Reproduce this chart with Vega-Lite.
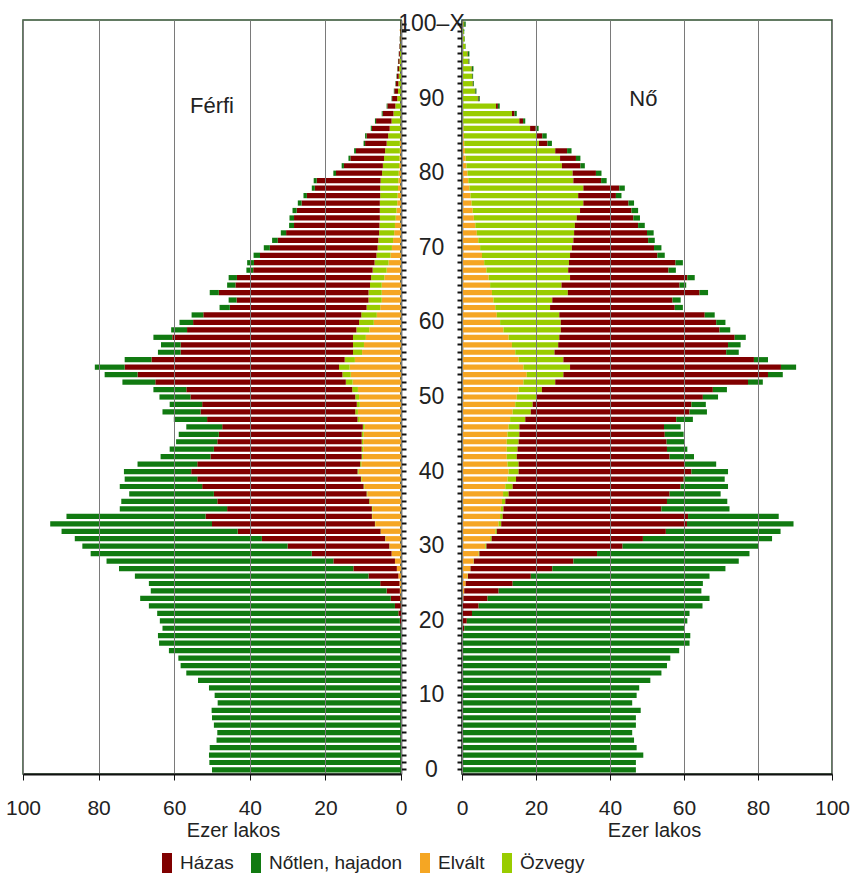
{
"$schema":"https://vega.github.io/schema/vega-lite/v6.json",
"padding":{"left":4,"top":11,"right":0,"bottom":5},
"background":"white",
"bounds":"flush",
"spacing":61,
"config":{
 "font":"Liberation Sans, Arial, sans-serif",
 "view":{"stroke":"#2f4f2f","strokeWidth":1.5},
 "axis":{"labelColor":"#222","titleColor":"#222","labelFontSize":21,"titleFontWeight":"normal","labelFlush":false},
 "legend":{"orient":"none","legendX":134,"legendY":833,"direction":"horizontal","columns":4,"columnPadding":12,"labelFontSize":19,"labelColor":"#222","symbolType":"M-0.5,-1H0.5V1H-0.5Z","symbolSize":400,"symbolStrokeWidth":0,"labelOffset":3,"title":null}
},
"datasets":{
 "male":[
{"age":100,"Elvált":0,"Özvegy":0.05,"Házas":0.07,"Nőtlen, hajadon":0.03},
{"age":99,"Elvált":0,"Özvegy":0.1,"Házas":0.12,"Nőtlen, hajadon":0.03},
{"age":98,"Elvált":0,"Özvegy":0.15,"Házas":0.16,"Nőtlen, hajadon":0.04},
{"age":97,"Elvált":0,"Özvegy":0.2,"Házas":0.2,"Nőtlen, hajadon":0.05},
{"age":96,"Elvált":0,"Özvegy":0.3,"Házas":0.25,"Nőtlen, hajadon":0.05},
{"age":95,"Elvált":0,"Özvegy":0.4,"Házas":0.34,"Nőtlen, hajadon":0.06},
{"age":94,"Elvált":0,"Özvegy":0.5,"Házas":0.42,"Nőtlen, hajadon":0.08},
{"age":93,"Elvált":0,"Özvegy":0.6,"Házas":0.5,"Nőtlen, hajadon":0.1},
{"age":92,"Elvált":0.02,"Özvegy":0.68,"Házas":0.7,"Nőtlen, hajadon":0.1},
{"age":91,"Elvált":0.03,"Özvegy":0.77,"Házas":0.98,"Nőtlen, hajadon":0.12},
{"age":90,"Elvált":0.05,"Özvegy":0.95,"Házas":1.35,"Nőtlen, hajadon":0.15},
{"age":89,"Elvált":0.05,"Özvegy":1.45,"Házas":2.1,"Nőtlen, hajadon":0.2},
{"age":88,"Elvált":0.1,"Özvegy":1.9,"Házas":2.85,"Nőtlen, hajadon":0.25},
{"age":87,"Elvált":0.1,"Özvegy":2.4,"Házas":4.1,"Nőtlen, hajadon":0.3},
{"age":86,"Elvált":0.15,"Özvegy":2.85,"Házas":4.7,"Nőtlen, hajadon":0.3},
{"age":85,"Elvált":0.2,"Özvegy":3.2,"Házas":5.7,"Nőtlen, hajadon":0.4},
{"age":84,"Elvált":0.3,"Özvegy":3.5,"Házas":5.7,"Nőtlen, hajadon":0.4},
{"age":83,"Elvált":0.3,"Özvegy":3.9,"Házas":7.7,"Nőtlen, hajadon":0.5},
{"age":82,"Elvált":0.4,"Özvegy":4.1,"Házas":8.9,"Nőtlen, hajadon":0.5},
{"age":81,"Elvált":0.5,"Özvegy":4.3,"Házas":10.3,"Nőtlen, hajadon":0.6},
{"age":80,"Elvált":0.6,"Özvegy":4.4,"Házas":12.2,"Nőtlen, hajadon":0.7},
{"age":79,"Elvált":0.7,"Özvegy":4.7,"Házas":16.9,"Nőtlen, hajadon":0.8},
{"age":78,"Elvált":0.8,"Özvegy":4.7,"Házas":17.3,"Nőtlen, hajadon":0.8},
{"age":77,"Elvált":0.9,"Özvegy":4.6,"Házas":19.4,"Nőtlen, hajadon":0.9},
{"age":76,"Elvált":1.0,"Özvegy":4.6,"Házas":20.7,"Nőtlen, hajadon":1.0},
{"age":75,"Elvált":1.2,"Özvegy":4.4,"Házas":22.0,"Nőtlen, hajadon":1.1},
{"age":74,"Elvált":1.4,"Özvegy":4.2,"Házas":22.7,"Nőtlen, hajadon":1.2},
{"age":73,"Elvált":1.6,"Özvegy":4.1,"Házas":22.6,"Nőtlen, hajadon":1.3},
{"age":72,"Elvált":1.8,"Özvegy":4.0,"Házas":24.6,"Nőtlen, hajadon":1.4},
{"age":71,"Elvált":2.1,"Özvegy":3.9,"Házas":26.6,"Nőtlen, hajadon":1.5},
{"age":70,"Elvált":2.4,"Özvegy":3.8,"Házas":28.5,"Nőtlen, hajadon":1.6},
{"age":69,"Elvált":2.8,"Özvegy":3.7,"Házas":30.8,"Nőtlen, hajadon":1.7},
{"age":68,"Elvált":3.3,"Özvegy":3.7,"Házas":31.9,"Nőtlen, hajadon":1.8},
{"age":67,"Elvált":3.8,"Özvegy":3.7,"Házas":31.6,"Nőtlen, hajadon":1.8},
{"age":66,"Elvált":4.4,"Özvegy":3.5,"Házas":35.5,"Nőtlen, hajadon":2.2},
{"age":65,"Elvált":5.1,"Özvegy":3.1,"Házas":35.6,"Nőtlen, hajadon":2.2},
{"age":64,"Elvált":5.1,"Özvegy":3.5,"Házas":39.6,"Nőtlen, hajadon":2.4},
{"age":63,"Elvált":5.1,"Özvegy":3.5,"Házas":34.9,"Nőtlen, hajadon":2.1},
{"age":62,"Elvált":5.5,"Özvegy":3.6,"Házas":36.2,"Nőtlen, hajadon":2.7},
{"age":61,"Elvált":6.4,"Özvegy":4.1,"Házas":41.8,"Nőtlen, hajadon":3.1},
{"age":60,"Elvált":7.2,"Özvegy":3.9,"Házas":43.9,"Nőtlen, hajadon":3.6},
{"age":59,"Elvált":8.4,"Özvegy":3.4,"Házas":44.8,"Nőtlen, hajadon":4.2},
{"age":58,"Elvált":9.3,"Özvegy":3.4,"Házas":47.8,"Nőtlen, hajadon":5.0},
{"age":57,"Elvált":9.8,"Özvegy":2.9,"Házas":45.6,"Nőtlen, hajadon":5.2},
{"age":56,"Elvált":10.3,"Özvegy":2.4,"Házas":45.6,"Nőtlen, hajadon":6.0},
{"age":55,"Elvált":12.2,"Özvegy":2.7,"Házas":51.1,"Nőtlen, hajadon":7.1},
{"age":54,"Elvált":13.6,"Özvegy":2.8,"Házas":56.7,"Nőtlen, hajadon":7.9},
{"age":53,"Elvált":13.3,"Özvegy":2.2,"Házas":54.2,"Nőtlen, hajadon":8.7},
{"age":52,"Elvált":12.8,"Özvegy":1.8,"Házas":50.4,"Nőtlen, hajadon":8.7},
{"age":51,"Elvált":11.4,"Özvegy":1.5,"Házas":43.9,"Nőtlen, hajadon":8.7},
{"age":50,"Elvált":11.1,"Özvegy":1.0,"Házas":43.6,"Nőtlen, hajadon":8.2},
{"age":49,"Elvált":10.9,"Özvegy":0.8,"Házas":40.9,"Nőtlen, hajadon":8.6},
{"age":48,"Elvált":11.4,"Özvegy":0.7,"Házas":40.9,"Nőtlen, hajadon":10.1},
{"age":47,"Elvált":10.9,"Özvegy":0.6,"Házas":39.8,"Nőtlen, hajadon":8.8},
{"age":46,"Elvált":9.6,"Özvegy":0.5,"Házas":37.2,"Nőtlen, hajadon":9.5},
{"age":45,"Elvált":9.9,"Özvegy":0.5,"Házas":37.8,"Nőtlen, hajadon":10.6},
{"age":44,"Elvált":10.0,"Özvegy":0.4,"Házas":38.2,"Nőtlen, hajadon":10.9},
{"age":43,"Elvált":10.0,"Özvegy":0.4,"Házas":39.1,"Nőtlen, hajadon":11.7},
{"age":42,"Elvált":10.1,"Özvegy":0.3,"Házas":40.0,"Nőtlen, hajadon":13.2},
{"age":41,"Elvált":10.5,"Özvegy":0.3,"Házas":43.1,"Nőtlen, hajadon":15.8},
{"age":40,"Elvált":11.2,"Özvegy":0.3,"Házas":44.0,"Nőtlen, hajadon":17.8},
{"age":39,"Elvált":10.4,"Özvegy":0.2,"Házas":43.3,"Nőtlen, hajadon":19.2},
{"age":38,"Elvált":9.7,"Özvegy":0.2,"Házas":42.7,"Nőtlen, hajadon":21.8},
{"age":37,"Elvált":8.9,"Özvegy":0.2,"Házas":40.4,"Nőtlen, hajadon":22.4},
{"age":36,"Elvált":8.2,"Özvegy":0.2,"Házas":40.2,"Nőtlen, hajadon":25.4},
{"age":35,"Elvált":7.5,"Özvegy":0.2,"Házas":38.3,"Nőtlen, hajadon":28.4},
{"age":34,"Elvált":7.6,"Özvegy":0.1,"Házas":44.0,"Nőtlen, hajadon":36.8},
{"age":33,"Elvált":6.8,"Özvegy":0.1,"Házas":43.1,"Nőtlen, hajadon":42.8},
{"age":32,"Elvált":5.3,"Özvegy":0.1,"Házas":37.8,"Nőtlen, hajadon":46.6},
{"age":31,"Elvált":4.1,"Özvegy":0.1,"Házas":32.6,"Nőtlen, hajadon":49.5},
{"age":30,"Elvált":3.0,"Özvegy":0.1,"Házas":26.9,"Nőtlen, hajadon":54.3},
{"age":29,"Elvált":2.5,"Özvegy":0,"Házas":21.1,"Nőtlen, hajadon":58.5},
{"age":28,"Elvált":1.6,"Özvegy":0,"Házas":16.3,"Nőtlen, hajadon":60.0},
{"age":27,"Elvált":1.1,"Özvegy":0,"Házas":11.5,"Nőtlen, hajadon":62.0},
{"age":26,"Elvált":0.7,"Özvegy":0,"Házas":7.9,"Nőtlen, hajadon":61.8},
{"age":25,"Elvált":0.4,"Özvegy":0,"Házas":5.1,"Nőtlen, hajadon":61.2},
{"age":24,"Elvált":0.3,"Özvegy":0,"Házas":3.5,"Nőtlen, hajadon":62.4},
{"age":23,"Elvált":0.2,"Özvegy":0,"Házas":2.5,"Nőtlen, hajadon":66.3},
{"age":22,"Elvált":0.1,"Özvegy":0,"Házas":1.5,"Nőtlen, hajadon":65.1},
{"age":21,"Elvált":0,"Özvegy":0,"Házas":0.7,"Nőtlen, hajadon":63.8},
{"age":20,"Elvált":0,"Özvegy":0,"Házas":0.3,"Nőtlen, hajadon":63.5},
{"age":19,"Elvált":0,"Özvegy":0,"Házas":0.1,"Nőtlen, hajadon":63.0},
{"age":18,"Elvált":0,"Özvegy":0,"Házas":0,"Nőtlen, hajadon":64.3},
{"age":17,"Elvált":0,"Özvegy":0,"Házas":0,"Nőtlen, hajadon":64.0},
{"age":16,"Elvált":0,"Özvegy":0,"Házas":0,"Nőtlen, hajadon":61.4},
{"age":15,"Elvált":0,"Özvegy":0,"Házas":0,"Nőtlen, hajadon":58.9},
{"age":14,"Elvált":0,"Özvegy":0,"Házas":0,"Nőtlen, hajadon":58.3},
{"age":13,"Elvált":0,"Özvegy":0,"Házas":0,"Nőtlen, hajadon":56.8},
{"age":12,"Elvált":0,"Özvegy":0,"Házas":0,"Nőtlen, hajadon":53.7},
{"age":11,"Elvált":0,"Özvegy":0,"Házas":0,"Nőtlen, hajadon":50.8},
{"age":10,"Elvált":0,"Özvegy":0,"Házas":0,"Nőtlen, hajadon":49.3},
{"age":9,"Elvált":0,"Özvegy":0,"Házas":0,"Nőtlen, hajadon":48.5},
{"age":8,"Elvált":0,"Özvegy":0,"Házas":0,"Nőtlen, hajadon":50.1},
{"age":7,"Elvált":0,"Özvegy":0,"Házas":0,"Nőtlen, hajadon":50.0},
{"age":6,"Elvált":0,"Özvegy":0,"Házas":0,"Nőtlen, hajadon":49.5},
{"age":5,"Elvált":0,"Özvegy":0,"Házas":0,"Nőtlen, hajadon":48.6},
{"age":4,"Elvált":0,"Özvegy":0,"Házas":0,"Nőtlen, hajadon":48.8},
{"age":3,"Elvált":0,"Özvegy":0,"Házas":0,"Nőtlen, hajadon":50.6},
{"age":2,"Elvált":0,"Özvegy":0,"Házas":0,"Nőtlen, hajadon":50.8},
{"age":1,"Elvált":0,"Özvegy":0,"Házas":0,"Nőtlen, hajadon":50.7},
{"age":0,"Elvált":0,"Özvegy":0,"Házas":0,"Nőtlen, hajadon":50.0}
 ],
 "female":[
{"age":100,"Elvált":0,"Özvegy":0.5,"Házas":0.1,"Nőtlen, hajadon":0.4},
{"age":99,"Elvált":0,"Özvegy":0.5,"Házas":0,"Nőtlen, hajadon":0.1},
{"age":98,"Elvált":0,"Özvegy":0.7,"Házas":0,"Nőtlen, hajadon":0.1},
{"age":97,"Elvált":0,"Özvegy":0.9,"Házas":0,"Nőtlen, hajadon":0.1},
{"age":96,"Elvált":0,"Özvegy":1.5,"Házas":0.1,"Nőtlen, hajadon":0.4},
{"age":95,"Elvált":0,"Özvegy":1.7,"Házas":0.1,"Nőtlen, hajadon":0.2},
{"age":94,"Elvált":0.05,"Özvegy":2.55,"Házas":0.1,"Nőtlen, hajadon":0.4},
{"age":93,"Elvált":0.05,"Özvegy":2.65,"Házas":0.1,"Nőtlen, hajadon":0.2},
{"age":92,"Elvált":0.05,"Özvegy":2.85,"Házas":0.1,"Nőtlen, hajadon":0.2},
{"age":91,"Elvált":0.1,"Özvegy":3.4,"Házas":0.1,"Nőtlen, hajadon":0.3},
{"age":90,"Elvált":0.1,"Özvegy":4.2,"Házas":0.2,"Nőtlen, hajadon":0.3},
{"age":89,"Elvált":0.2,"Özvegy":9.0,"Házas":0.5,"Nőtlen, hajadon":0.5},
{"age":88,"Elvált":0.3,"Özvegy":13.2,"Házas":0.7,"Nőtlen, hajadon":0.6},
{"age":87,"Elvált":0.3,"Özvegy":15.2,"Házas":1.0,"Nőtlen, hajadon":0.6},
{"age":86,"Elvált":0.4,"Özvegy":18.0,"Házas":1.5,"Nőtlen, hajadon":0.8},
{"age":85,"Elvált":0.5,"Özvegy":19.5,"Házas":1.7,"Nőtlen, hajadon":1.2},
{"age":84,"Elvált":0.6,"Özvegy":20.2,"Házas":2.3,"Nőtlen, hajadon":1.2},
{"age":83,"Elvált":0.8,"Özvegy":24.4,"Házas":3.2,"Nőtlen, hajadon":1.2},
{"age":82,"Elvált":1.0,"Özvegy":25.5,"Házas":4.3,"Nőtlen, hajadon":1.2},
{"age":81,"Elvált":1.2,"Özvegy":25.8,"Házas":5.0,"Nőtlen, hajadon":1.2},
{"age":80,"Elvált":1.5,"Özvegy":28.4,"Házas":6.3,"Nőtlen, hajadon":1.5},
{"age":79,"Elvált":1.7,"Özvegy":28.4,"Házas":7.5,"Nőtlen, hajadon":1.5},
{"age":78,"Elvált":2.0,"Özvegy":30.8,"Házas":9.7,"Nőtlen, hajadon":1.5},
{"age":77,"Elvált":2.3,"Özvegy":29.1,"Házas":10.2,"Nőtlen, hajadon":1.5},
{"age":76,"Elvált":2.6,"Özvegy":30.2,"Házas":12.2,"Nőtlen, hajadon":1.5},
{"age":75,"Elvált":2.9,"Özvegy":29.0,"Házas":13.9,"Nőtlen, hajadon":1.8},
{"age":74,"Elvált":3.2,"Özvegy":27.8,"Házas":15.3,"Nőtlen, hajadon":1.8},
{"age":73,"Elvált":3.6,"Özvegy":26.9,"Házas":17.1,"Nőtlen, hajadon":1.8},
{"age":72,"Elvált":4.0,"Özvegy":26.3,"Házas":19.7,"Nőtlen, hajadon":1.8},
{"age":71,"Elvált":4.4,"Özvegy":25.7,"Házas":20.2,"Nőtlen, hajadon":1.8},
{"age":70,"Elvált":4.9,"Özvegy":24.8,"Házas":22.2,"Nőtlen, hajadon":2.0},
{"age":69,"Elvált":5.4,"Özvegy":23.8,"Házas":23.6,"Nőtlen, hajadon":2.0},
{"age":68,"Elvált":6.0,"Özvegy":22.9,"Házas":28.8,"Nőtlen, hajadon":2.0},
{"age":67,"Elvált":6.6,"Özvegy":22.1,"Házas":27.1,"Nőtlen, hajadon":2.0},
{"age":66,"Elvált":7.2,"Özvegy":22.0,"Házas":31.7,"Nőtlen, hajadon":2.0},
{"age":65,"Elvált":7.6,"Özvegy":19.3,"Házas":31.9,"Nőtlen, hajadon":1.8},
{"age":64,"Elvált":8.1,"Özvegy":20.5,"Házas":35.6,"Nőtlen, hajadon":2.3},
{"age":63,"Elvált":8.5,"Özvegy":15.9,"Házas":32.5,"Nőtlen, hajadon":2.2},
{"age":62,"Elvált":9.0,"Özvegy":14.8,"Házas":33.7,"Nőtlen, hajadon":2.2},
{"age":61,"Elvált":9.4,"Özvegy":16.9,"Házas":39.3,"Nőtlen, hajadon":2.7},
{"age":60,"Elvált":10.3,"Özvegy":16.4,"Házas":42.0,"Nőtlen, hajadon":2.5},
{"age":59,"Elvált":11.2,"Özvegy":15.5,"Házas":42.9,"Nőtlen, hajadon":2.9},
{"age":58,"Elvált":12.6,"Özvegy":13.7,"Házas":47.4,"Nőtlen, hajadon":3.0},
{"age":57,"Elvált":13.5,"Özvegy":12.5,"Házas":45.9,"Nőtlen, hajadon":3.4},
{"age":56,"Elvált":14.4,"Özvegy":10.6,"Házas":46.4,"Nőtlen, hajadon":3.4},
{"age":55,"Elvált":15.3,"Özvegy":12.1,"Házas":51.5,"Nőtlen, hajadon":3.8},
{"age":54,"Elvált":16.6,"Özvegy":12.6,"Házas":57.0,"Nőtlen, hajadon":4.1},
{"age":53,"Elvált":17.5,"Özvegy":9.9,"Házas":55.3,"Nőtlen, hajadon":4.0},
{"age":52,"Elvált":16.6,"Özvegy":8.6,"Házas":52.1,"Nőtlen, hajadon":4.0},
{"age":51,"Elvált":15.3,"Özvegy":6.3,"Házas":46.2,"Nőtlen, hajadon":3.8},
{"age":50,"Elvált":14.8,"Özvegy":5.4,"Házas":44.9,"Nőtlen, hajadon":4.1},
{"age":49,"Elvált":14.4,"Özvegy":4.7,"Házas":42.9,"Nőtlen, hajadon":3.9},
{"age":48,"Elvált":13.7,"Özvegy":4.9,"Házas":42.9,"Nőtlen, hajadon":4.7},
{"age":47,"Elvált":13.0,"Özvegy":4.1,"Házas":40.8,"Nőtlen, hajadon":4.5},
{"age":46,"Elvált":12.6,"Özvegy":2.9,"Házas":39.1,"Nőtlen, hajadon":4.5},
{"age":45,"Elvált":12.3,"Özvegy":3.2,"Házas":39.3,"Nőtlen, hajadon":5.1},
{"age":44,"Elvált":12.1,"Özvegy":3.2,"Házas":40.0,"Nőtlen, hajadon":4.7},
{"age":43,"Elvált":12.1,"Özvegy":2.9,"Házas":40.4,"Nőtlen, hajadon":5.5},
{"age":42,"Elvált":12.1,"Özvegy":2.7,"Házas":41.3,"Nőtlen, hajadon":6.6},
{"age":41,"Elvált":12.3,"Özvegy":3.0,"Házas":44.9,"Nőtlen, hajadon":8.5},
{"age":40,"Elvált":12.6,"Özvegy":2.7,"Házas":46.7,"Nőtlen, hajadon":9.9},
{"age":39,"Elvált":12.3,"Özvegy":2.3,"Házas":45.3,"Nőtlen, hajadon":11.1},
{"age":38,"Elvált":11.7,"Özvegy":2.0,"Házas":45.4,"Nőtlen, hajadon":12.8},
{"age":37,"Elvált":11.1,"Özvegy":1.5,"Házas":43.5,"Nőtlen, hajadon":13.8},
{"age":36,"Elvált":10.8,"Özvegy":0.9,"Házas":43.7,"Nőtlen, hajadon":16.3},
{"age":35,"Elvált":10.5,"Özvegy":0.7,"Házas":42.7,"Nőtlen, hajadon":18.4},
{"age":34,"Elvált":10.3,"Özvegy":0.7,"Házas":50.1,"Nőtlen, hajadon":24.5},
{"age":33,"Elvált":9.9,"Özvegy":0.7,"Házas":50.2,"Nőtlen, hajadon":28.8},
{"age":32,"Elvált":9.0,"Özvegy":0.4,"Házas":45.7,"Nőtlen, hajadon":31.0},
{"age":31,"Elvált":7.6,"Özvegy":0.4,"Házas":40.9,"Nőtlen, hajadon":34.9},
{"age":30,"Elvált":6.3,"Özvegy":0.3,"Házas":36.8,"Nőtlen, hajadon":36.8},
{"age":29,"Elvált":4.5,"Özvegy":0.2,"Házas":31.8,"Nőtlen, hajadon":41.2},
{"age":28,"Elvált":3.1,"Özvegy":0.1,"Házas":26.9,"Nőtlen, hajadon":44.7},
{"age":27,"Elvált":2.2,"Özvegy":0.1,"Házas":22.1,"Nőtlen, hajadon":46.8},
{"age":26,"Elvált":1.5,"Özvegy":0.1,"Házas":17.0,"Nőtlen, hajadon":48.3},
{"age":25,"Elvált":1.0,"Özvegy":0,"Házas":12.7,"Nőtlen, hajadon":51.4},
{"age":24,"Elvált":0.6,"Özvegy":0,"Házas":9.3,"Nőtlen, hajadon":54.8},
{"age":23,"Elvált":0.4,"Özvegy":0,"Házas":6.5,"Nőtlen, hajadon":60.0},
{"age":22,"Elvált":0.2,"Özvegy":0,"Házas":4.3,"Nőtlen, hajadon":60.5},
{"age":21,"Elvált":0.1,"Özvegy":0,"Házas":2.6,"Nőtlen, hajadon":58.8},
{"age":20,"Elvált":0,"Özvegy":0,"Házas":1.3,"Nőtlen, hajadon":59.6},
{"age":19,"Elvált":0,"Özvegy":0,"Házas":0.6,"Nőtlen, hajadon":59.6},
{"age":18,"Elvált":0,"Özvegy":0,"Házas":0.2,"Nőtlen, hajadon":61.5},
{"age":17,"Elvált":0,"Özvegy":0,"Házas":0,"Nőtlen, hajadon":61.5},
{"age":16,"Elvált":0,"Özvegy":0,"Házas":0,"Nőtlen, hajadon":58.7},
{"age":15,"Elvált":0,"Özvegy":0,"Házas":0,"Nőtlen, hajadon":56.3},
{"age":14,"Elvált":0,"Özvegy":0,"Házas":0,"Nőtlen, hajadon":55.4},
{"age":13,"Elvált":0,"Özvegy":0,"Házas":0,"Nőtlen, hajadon":53.9},
{"age":12,"Elvált":0,"Özvegy":0,"Házas":0,"Nőtlen, hajadon":50.9},
{"age":11,"Elvált":0,"Özvegy":0,"Házas":0,"Nőtlen, hajadon":47.9},
{"age":10,"Elvált":0,"Özvegy":0,"Házas":0,"Nőtlen, hajadon":47.2},
{"age":9,"Elvált":0,"Özvegy":0,"Házas":0,"Nőtlen, hajadon":46.0},
{"age":8,"Elvált":0,"Özvegy":0,"Házas":0,"Nőtlen, hajadon":48.3},
{"age":7,"Elvált":0,"Özvegy":0,"Házas":0,"Nőtlen, hajadon":47.0},
{"age":6,"Elvált":0,"Özvegy":0,"Házas":0,"Nőtlen, hajadon":47.0},
{"age":5,"Elvált":0,"Özvegy":0,"Házas":0,"Nőtlen, hajadon":46.0},
{"age":4,"Elvált":0,"Özvegy":0,"Házas":0,"Nőtlen, hajadon":46.5},
{"age":3,"Elvált":0,"Özvegy":0,"Házas":0,"Nőtlen, hajadon":47.2},
{"age":2,"Elvált":0,"Özvegy":0,"Házas":0,"Nőtlen, hajadon":49.0},
{"age":1,"Elvált":0,"Özvegy":0,"Házas":0,"Nőtlen, hajadon":47.0},
{"age":0,"Elvált":0,"Özvegy":0,"Házas":0,"Nőtlen, hajadon":47.0}
 ]
},
"hconcat":[
 {
  "width":378,"height":754,
  "layer":[
   {
    "data":{"name":"male"},
    "transform":[
     {"fold":["Elvált","Özvegy","Házas","Nőtlen, hajadon"],"as":["status","value"]},
     {"window":[{"op":"row_number","as":"rank"}],"groupby":["age"]}
    ],
    "mark":{"type":"bar"},
    "encoding":{
     "y":{"field":"age","type":"ordinal","sort":"descending","scale":{"paddingInner":0.3,"paddingOuter":0.19},
      "axis":{"orient":"right","title":null,"labelExpr":"datum.value == 100 ? '100–X' : (datum.value % 10 == 0 ? datum.value : '')","labelOverlap":false,"labelAlign":"center","labelBaseline":"middle","labelPadding":25,"labelFontSize":23,"tickSize":5,"tickWidth":2,"tickColor":"#111","domainColor":"#111","domainWidth":1.5,"grid":false}},
     "x":{"field":"value","type":"quantitative","stack":"zero","scale":{"domain":[0,100],"reverse":true},
      "axis":{"values":[0,20,40,60,80,100],"grid":true,"gridColor":"#7a7a7a","gridWidth":1,"zindex":1,"domainColor":"#111","domainWidth":2,"tickColor":"#111","tickSize":6,"labelPadding":17,"title":"Ezer lakos","titleFontSize":20,"titlePadding":2,"titleX":210,"titleAlign":"center"}},
     "order":{"field":"rank","type":"quantitative"},
     "color":{"field":"status","type":"nominal",
      "scale":{"domain":["Elvált","Özvegy","Házas","Nőtlen, hajadon"],"range":["#f5a623","#99cc00","#800000","#117a11"]},
      "legend":{"values":["Házas","Nőtlen, hajadon","Elvált","Özvegy"]}}
    }
   },
   {
    "data":{"values":[{"age":89,"label":"Férfi"}]},
    "mark":{"type":"text","fontSize":22,"color":"#222"},
    "encoding":{
     "x":{"datum":50,"type":"quantitative"},
     "y":{"field":"age","type":"ordinal","sort":"descending"},
     "text":{"field":"label"}
    }
   }
  ]
 },
 {
  "width":370,"height":754,
  "layer":[
   {
    "data":{"name":"female"},
    "transform":[
     {"fold":["Elvált","Özvegy","Házas","Nőtlen, hajadon"],"as":["status","value"]},
     {"window":[{"op":"row_number","as":"rank"}],"groupby":["age"]}
    ],
    "mark":{"type":"bar"},
    "encoding":{
     "y":{"field":"age","type":"ordinal","sort":"descending","scale":{"paddingInner":0.3,"paddingOuter":0.19},
      "axis":{"orient":"left","title":null,"labels":false,"tickSize":5,"tickWidth":2,"tickColor":"#111","domainColor":"#111","domainWidth":1.5,"grid":false}},
     "x":{"field":"value","type":"quantitative","stack":"zero","scale":{"domain":[0,100]},
      "axis":{"values":[0,20,40,60,80,100],"grid":true,"gridColor":"#7a7a7a","gridWidth":1,"zindex":1,"domainColor":"#111","domainWidth":2,"tickColor":"#111","tickSize":6,"labelPadding":17,"title":"Ezer lakos","titleFontSize":20,"titlePadding":2,"titleX":192,"titleAlign":"center"}},
     "order":{"field":"rank","type":"quantitative"},
     "color":{"field":"status","type":"nominal",
      "scale":{"domain":["Elvált","Özvegy","Házas","Nőtlen, hajadon"],"range":["#f5a623","#99cc00","#800000","#117a11"]},
      "legend":{"values":["Házas","Nőtlen, hajadon","Elvált","Özvegy"]}}
    }
   },
   {
    "data":{"values":[{"age":90,"label":"Nő"}]},
    "mark":{"type":"text","fontSize":22,"color":"#222"},
    "encoding":{
     "x":{"datum":49,"type":"quantitative"},
     "y":{"field":"age","type":"ordinal","sort":"descending"},
     "text":{"field":"label"}
    }
   }
  ]
 }
]
}
